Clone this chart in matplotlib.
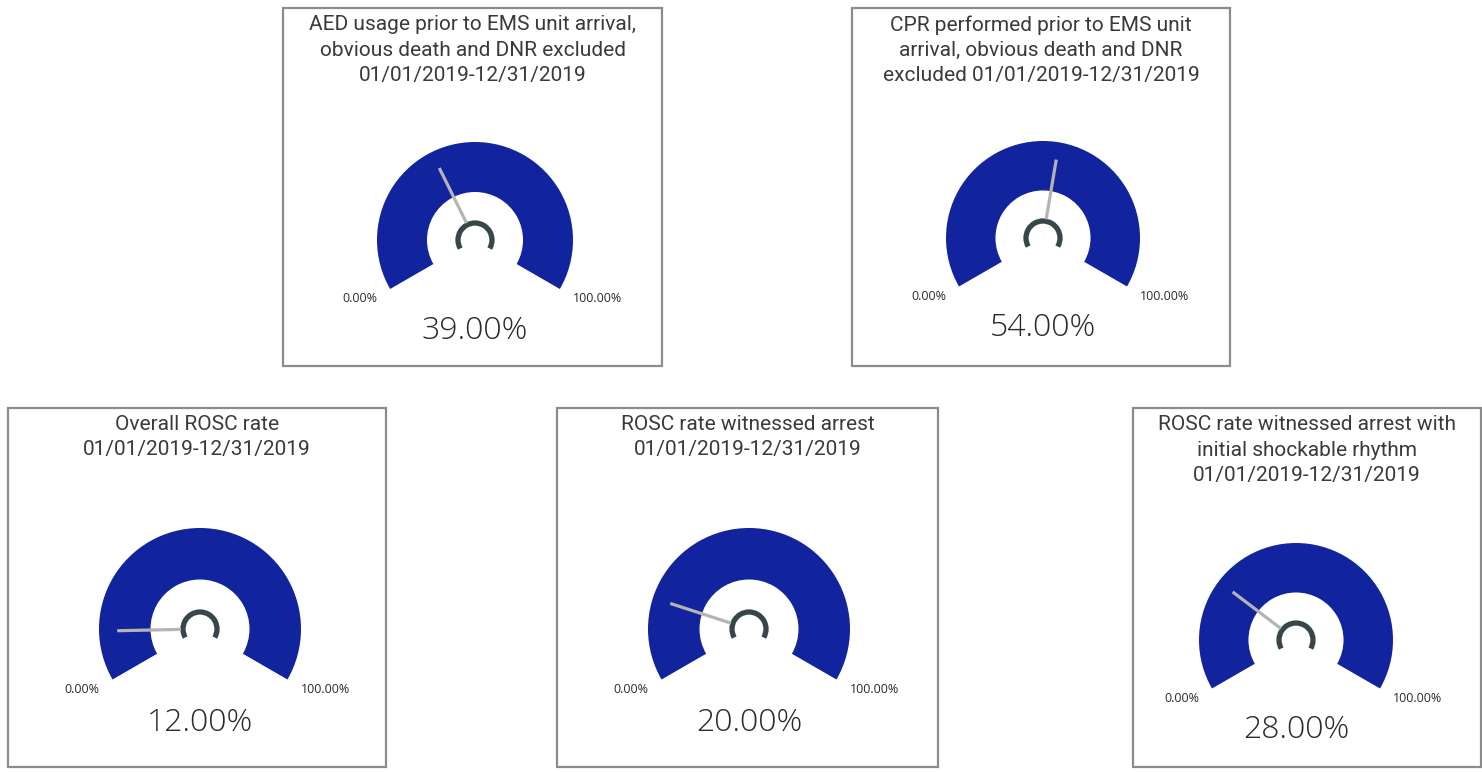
import numpy as np
import matplotlib
matplotlib.use("Agg")
import matplotlib.pyplot as plt
from matplotlib.patches import Wedge, Arc, Rectangle

# KPI values (percent)
titles = [
    ["AED usage prior to EMS unit arrival,", "obvious death and DNR excluded", "01/01/2019-12/31/2019"],
    ["CPR performed prior to EMS unit", "arrival, obvious death and DNR", "excluded 01/01/2019-12/31/2019"],
    ["Overall ROSC rate", "01/01/2019-12/31/2019"],
    ["ROSC rate witnessed arrest", "01/01/2019-12/31/2019"],
    ["ROSC rate witnessed arrest with", "initial shockable rhythm", "01/01/2019-12/31/2019"],
]
values = [39.0, 54.0, 12.0, 20.0, 28.0]
gauge_min = 0.0
gauge_max = 100.0

W, H = 1482, 772

# card layout in pixel units (left, top, right, bottom) and gauge centre/radius
cards = [(283, 8, 662, 366), (852, 8, 1230, 366), (8, 408, 386, 767),
         (557, 408, 938, 767), (1133, 408, 1481, 767)]
gauges = [(475, 240, 98), (1043, 238, 97), (200, 629, 101), (749, 629, 101), (1296, 640, 97)]

BLUE = "#12239E"
HUB = "#374649"
NEEDLE = "#B4B4B4"
TEXT = "#2B2B2B"
BORDER = "#8C8C8C"

START, SWEEP = 210.0, 240.0

fig = plt.figure(figsize=(W / 100, H / 100), dpi=100)
ax = fig.add_axes([0, 0, 1, 1])
ax.set_xlim(0, W)
ax.set_ylim(0, H)
ax.set_aspect("equal")
ax.axis("off")


def Y(y):
    return H - y


for title, val, card, (cx, cy, ro) in zip(titles, values, cards, gauges):
    l, t, r, b = card
    ax.add_patch(Rectangle((l, Y(b)), r - l, b - t, fill=False,
                           edgecolor=BORDER, linewidth=1.6))
    mid = (l + r) / 2
    for i, line in enumerate(title):
        ax.text(mid, Y(t + 17 + 25 * i), line, ha="center", va="center",
                fontsize=15, color="#3A3A3A", family="Roboto")

    ri = ro * 0.49
    ax.add_patch(Wedge((cx, Y(cy)), ro, START - SWEEP, START, width=ro - ri,
                       facecolor=BLUE, edgecolor="none"))

    # needle
    frac = (val - gauge_min) / (gauge_max - gauge_min)
    ang = np.deg2rad(START - SWEEP * frac)
    r0, r1 = 19, ro * 0.82
    ax.plot([cx + r0 * np.cos(ang), cx + r1 * np.cos(ang)],
            [Y(cy) + r0 * np.sin(ang), Y(cy) + r1 * np.sin(ang)],
            color=NEEDLE, linewidth=2.3, solid_capstyle="butt")

    # hub
    ax.add_patch(Arc((cx, Y(cy)), 34, 34, theta1=START - SWEEP, theta2=START,
                     color=HUB, linewidth=3.8))

    ax.text(cx - ro, Y(cy + 0.6 * ro), f"{gauge_min:.2f}%", ha="right", va="center",
            fontsize=9, color=TEXT, family="Open Sans")
    ax.text(cx + ro, Y(cy + 0.6 * ro), f"{gauge_max:.2f}%", ha="left", va="center",
            fontsize=9, color=TEXT, family="Open Sans")
    ax.text(cx, Y(cy + 0.93 * ro), f"{val:.2f}%", ha="center", va="center",
            fontsize=23, color=TEXT, family="Open Sans", fontweight="light")

fig.savefig("out.png", dpi=100, facecolor="white")
